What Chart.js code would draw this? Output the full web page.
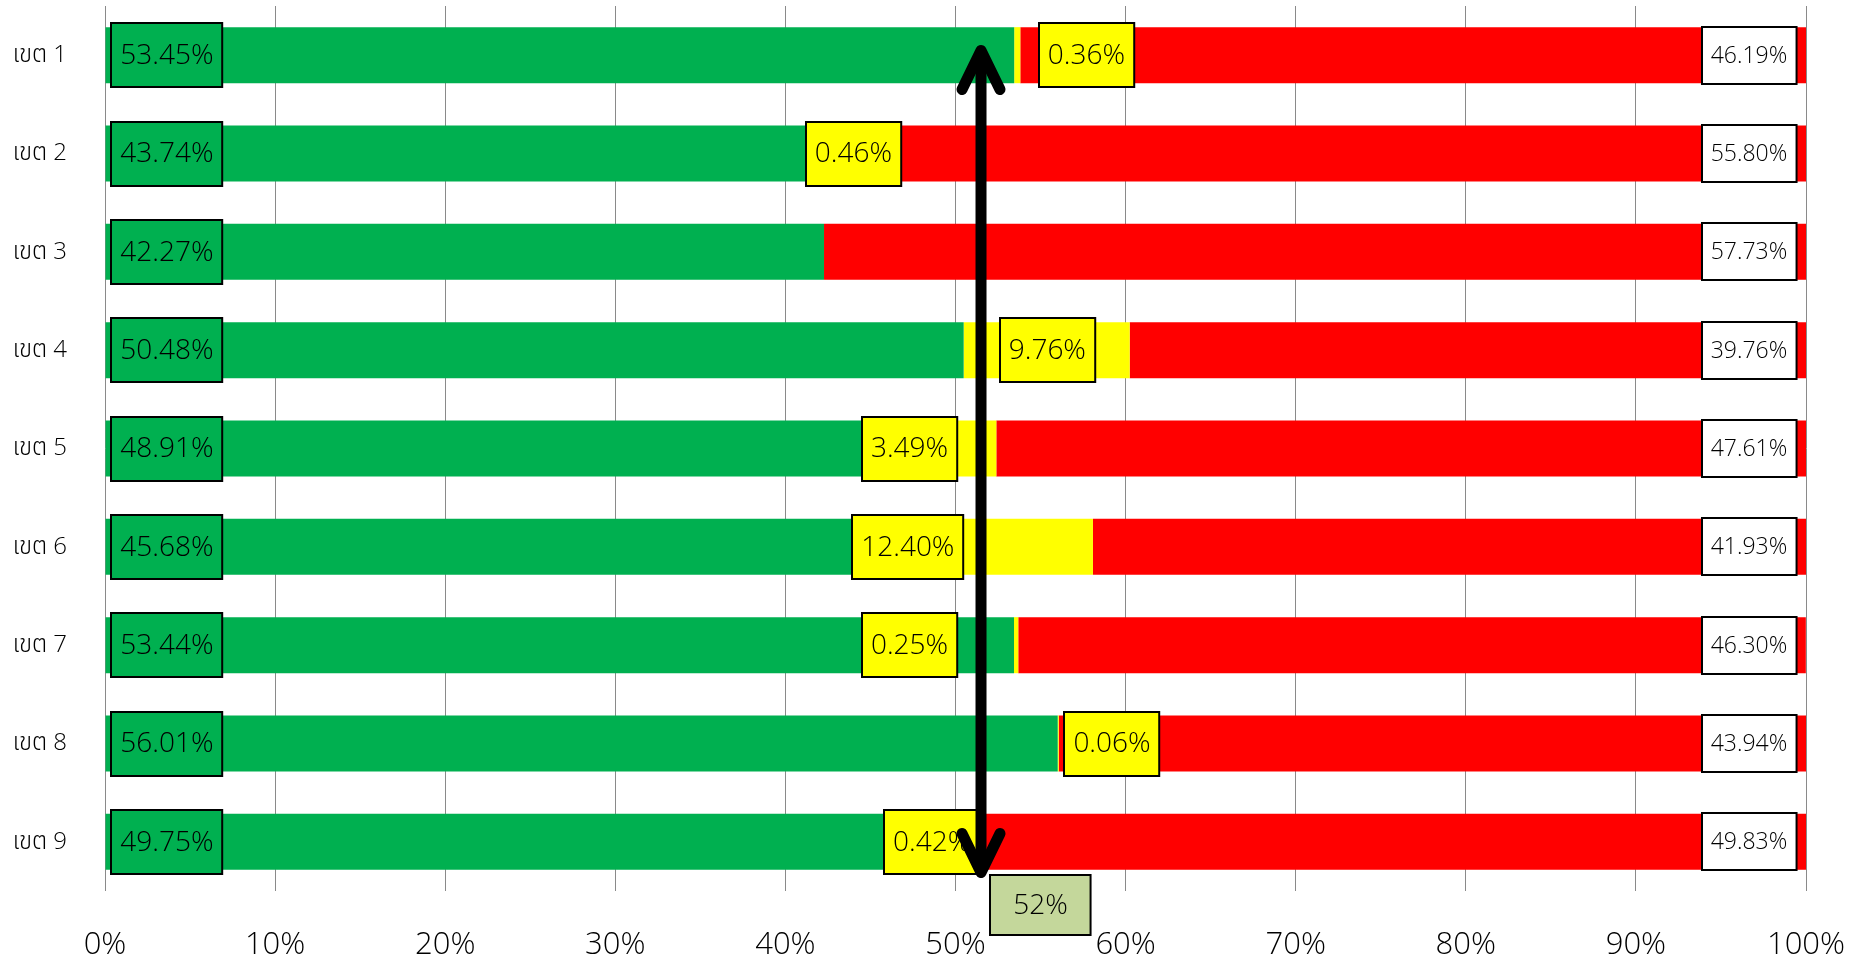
<!DOCTYPE html>
<html>
<head>
<meta charset="utf-8">
<script src="https://cdn.jsdelivr.net/npm/chart.js@4.4.0/dist/chart.umd.min.js"></script>
<style>
html,body{margin:0;padding:0;background:#ffffff;}
#wrap{width:1866px;height:968px;position:relative;}
</style>
</head>
<body>
<div id="wrap"><canvas id="c" width="1866" height="968"></canvas></div>
<script>
const categories = ['เขต 1','เขต 2','เขต 3','เขต 4','เขต 5','เขต 6','เขต 7','เขต 8','เขต 9'];
const greenValues = [53.45, 43.74, 42.27, 50.48, 48.91, 45.68, 53.44, 56.01, 49.75];
const yellowValues = [0.36, 0.46, 0, 9.76, 3.49, 12.40, 0.25, 0.06, 0.42];
const redValues = [46.19, 55.80, 57.73, 39.76, 47.61, 41.93, 46.30, 43.94, 49.83];
const xTickValues = [0, 10, 20, 30, 40, 50, 60, 70, 80, 90, 100];
const targetValue = 52;

const FONT = "'Open Sans', 'Noto Sans', 'Noto Sans Thai', 'Garuda', 'Loma', 'DejaVu Sans', sans-serif";

function fmt(v){ return v.toFixed(2) + '%'; }

function drawBox(ctx, cx, cy, text, fill, fontSize, h, pad){
  ctx.save();
  ctx.font = '300 ' + fontSize + 'px ' + FONT;
  const tw = ctx.measureText(text).width;
  const w = tw + pad * 2;
  const x = Math.round(cx - w / 2), y = Math.round(cy - h / 2);
  ctx.fillStyle = fill;
  ctx.fillRect(x, y, w, h);
  ctx.lineWidth = 2;
  ctx.strokeStyle = '#000000';
  ctx.strokeRect(x, y, w, h);
  ctx.fillStyle = '#000000';
  ctx.textAlign = 'center';
  ctx.textBaseline = 'middle';
  ctx.fillText(text, cx, cy + 1);
  ctx.restore();
}

function zeroPad(s){ s.paddingLeft = 0; s.paddingRight = 0; s.paddingTop = 0; s.paddingBottom = 0; }

const boxLabels = {
  id: 'boxLabels',
  afterDatasetsDraw(chart, args, opts){
    const ctx = chart.ctx;
    const xs = chart.scales.x;
    const meta = chart.getDatasetMeta(0);
    for (let i = 0; i < categories.length; i++){
      const y = meta.data[i].y;
      drawBox(ctx, xs.getPixelForValue(opts.greenAt), y, fmt(greenValues[i]), '#00B050', 28, 64, 9);
      if (yellowValues[i] > 0){
        drawBox(ctx, xs.getPixelForValue(opts.yellowAt[i]), y, fmt(yellowValues[i]), '#FFFF00', 28, 64, 9);
      }
      drawBox(ctx, xs.getPixelForValue(opts.redAt), y, fmt(redValues[i]), '#FFFFFF', 23, 57, 9);
    }
  },
  afterDraw(chart, args, opts){
    const ctx = chart.ctx;
    const xs = chart.scales.x;
    const ca = chart.chartArea;
    drawBox(ctx, xs.getPixelForValue(opts.targetLabelAt), ca.bottom + 14, targetValue + '%', '#C4D79B', 28, 60, 23);
    const x = xs.getPixelForValue(opts.arrowAt);
    const top = ca.top + 44.5, bot = ca.bottom - 18.5;
    ctx.save();
    ctx.strokeStyle = '#000000';
    ctx.lineWidth = 11;
    ctx.lineCap = 'round';
    ctx.lineJoin = 'round';
    ctx.beginPath();
    ctx.moveTo(x, top + 4);
    ctx.lineTo(x, bot - 4);
    ctx.stroke();
    ctx.beginPath();
    ctx.moveTo(x - 19, top + 39);
    ctx.lineTo(x, top);
    ctx.lineTo(x + 19, top + 39);
    ctx.stroke();
    ctx.beginPath();
    ctx.moveTo(x - 19, bot - 39);
    ctx.lineTo(x, bot);
    ctx.lineTo(x + 19, bot - 39);
    ctx.stroke();
    ctx.restore();
  }
};

new Chart(document.getElementById('c'), {
  type: 'bar',
  data: {
    labels: categories,
    datasets: [
      { label: 'green', data: greenValues, backgroundColor: '#00B050' },
      { label: 'yellow', data: yellowValues, backgroundColor: '#FFFF00' },
      { label: 'red', data: redValues, backgroundColor: '#FF0000' }
    ]
  },
  options: {
    indexAxis: 'y',
    responsive: false,
    animation: false,
    devicePixelRatio: 1,
    layout: { padding: { top: 6, right: 60, bottom: 0, left: 0 } },
    datasets: { bar: { categoryPercentage: 1, barPercentage: 0.57, borderWidth: 0 } },
    plugins: {
      legend: { display: false },
      tooltip: { enabled: false },
      boxLabels: {
        greenAt: 3.64,
        redAt: 96.65,
        yellowAt: [57.7, 44.0, null, 55.4, 47.3, 47.2, 47.3, 59.2, 48.6],
        arrowAt: 51.5,
        targetLabelAt: 55.0
      }
    },
    scales: {
      x: {
        stacked: true,
        min: 0,
        max: 100,
        afterBuildTicks: (s) => { s.ticks = xTickValues.map(v => ({ value: v })); },
        afterFit: (s) => { s.height = 77; zeroPad(s); },
        ticks: {
          callback: (v) => v + '%',
          font: { family: FONT, size: 31, weight: '300' },
          color: '#000000',
          padding: 36,
          maxRotation: 0
        },
        grid: { color: '#8a8a8a', lineWidth: 1, drawTicks: false },
        border: { display: false }
      },
      y: {
        stacked: true,
        afterFit: (s) => { s.width = 105; zeroPad(s); },
        ticks: {
          font: { family: FONT, size: 24, weight: '300' },
          color: '#000000',
          padding: 38
        },
        grid: { display: false, drawTicks: false },
        border: { display: false }
      }
    }
  },
  plugins: [boxLabels]
});
</script>
</body>
</html>
